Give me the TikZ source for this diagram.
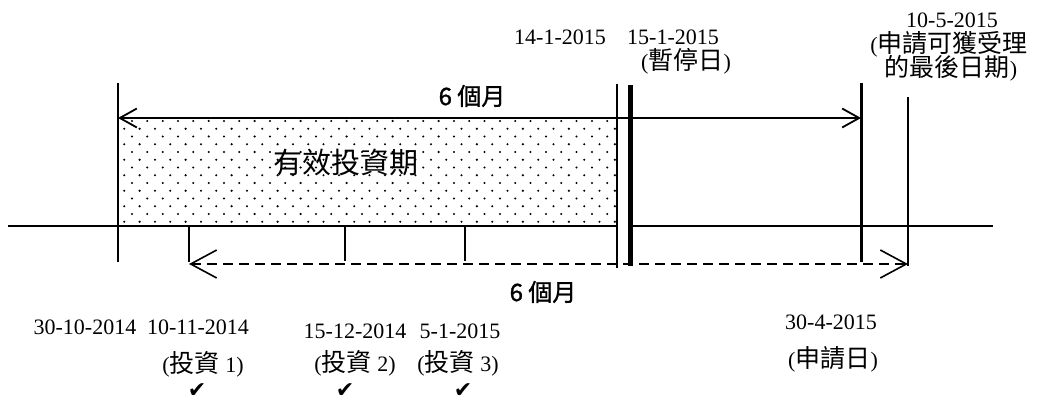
\documentclass[tikz,border=0pt]{standalone}
\usepackage{fontspec}
\setmainfont{Liberation Serif}
\newfontfamily\cjk{Noto Sans CJK TC}
\newfontfamily\cjkb[FakeBold=1.2]{Noto Sans CJK TC}
\newfontfamily\symf{DejaVu Sans}
\newcommand{\zh}[1]{{\cjk\fontsize{25}{26}\selectfont #1}}
\usetikzlibrary{arrows.meta}
\begin{document}
\begin{tikzpicture}[x=1pt,y=-1pt,
  datelbl/.style={inner sep=0pt,font=\fontsize{22}{24}\selectfont},
  monthlbl/.style={inner sep=0pt,font=\cjkb\fontsize{24}{26}\selectfont},
  tick/.style={line width=2pt},
  mainline/.style={line width=2pt},
  toparrow/.style={line width=1.8pt,{Straight Barb[length=17pt,width=19pt]}-{Straight Barb[length=17pt,width=19pt]}},
  dasharrow/.style={line width=1.6pt,dash pattern=on 10pt off 6pt,{Straight Barb[length=26pt,width=28pt]}-{Straight Barb[length=26pt,width=28pt]}},
  chk/.style={inner sep=0pt,font=\symf\fontsize{22}{24}\selectfont}]
\useasboundingbox (0,0) rectangle (1039,403);
% coordinates
\coordinate (v1t) at (118,83);   \coordinate (v1b) at (118,262);
\coordinate (t1t) at (189,226);  \coordinate (t1b) at (189,262);
\coordinate (t2t) at (345,226);  \coordinate (t2b) at (345,261);
\coordinate (t3t) at (465,226);  \coordinate (t3b) at (465,261);
\coordinate (v14t) at (617,84);  \coordinate (v14b) at (617,268);
\coordinate (v15t) at (630,85);  \coordinate (v15b) at (630,266);
\coordinate (v30t) at (861,83);  \coordinate (v30b) at (861,262);
\coordinate (v10t) at (908,97);  \coordinate (v10b) at (908,266);
\coordinate (mlA) at (8,226);    \coordinate (mlB) at (617,226);
\coordinate (mlC) at (632,226);  \coordinate (mlD) at (993,226);
\coordinate (boxTL) at (118,118);
\coordinate (aL) at (118,118);   \coordinate (aR) at (861,118);
\coordinate (dL) at (189,264);   \coordinate (dR) at (908,264);
% dotted area
\begin{scope}
\clip (boxTL) rectangle (mlB);
\foreach \r in {0,...,13}{
  \pgfmathsetmacro{\yy}{121+7.75*\r}
  \pgfmathsetmacro{\xo}{mod(\r,2)==0 ? 132 : 124.3}
  \foreach \k in {0,...,32}{
    \fill[black] ({\xo+15.33*\k},\yy) circle (1.15);
  }
}
\end{scope}
% main line
\draw[mainline] (mlA) -- (mlB);
\draw[mainline] (mlC) -- (mlD);
% verticals
\draw[line width=2.7pt] (v1t) -- (v1b);
\draw[tick] (t1t) -- (t1b);
\draw[tick] (t2t) -- (t2b);
\draw[tick] (t3t) -- (t3b);
\draw[line width=1.5pt] (v14t) -- (v14b);
\draw[line width=5pt] (v15t) -- (v15b);
\draw[line width=3pt] (v30t) -- (v30b);
\draw[line width=2pt] (v10t) -- (v10b);
% arrows
\draw[toparrow] (aL) -- (aR);
\draw[dasharrow] (dL) -- (dR);
% labels
\node[monthlbl] (m1) at (472,96) {6 個月};
\node[monthlbl] (m2) at (543,292) {6 個月};
\node[inner sep=0pt,font=\cjk\fontsize{29}{32}\selectfont] (eff) at (346,163) {有效投資期};
\node[datelbl] (d14) at (560,37) {14-1-2015};
\node[datelbl] (d15) at (673,37) {15-1-2015};
\node[datelbl] (d15z) at (686,61) {(\zh{暫停日})};
\node[datelbl] (d105) at (952,20) {10-5-2015};
\node[datelbl] (d105a) at (949,44) {(\zh{申請可獲受理}};
\node[datelbl] (d105b) at (951,68) {\zh{的最後日期})};
\node[datelbl] (d3010) at (85,327) {30-10-2014};
\node[datelbl] (d1011) at (198,327) {10-11-2014};
\node[datelbl] (i1) at (203,364) {(\zh{投資} 1)};
\node[chk] (c1) at (197,391) {✔};
\node[datelbl] (d1512) at (355,331) {15-12-2014};
\node[datelbl] (d51) at (460,331) {5-1-2015};
\node[datelbl] (i2) at (355,363) {(\zh{投資} 2)};
\node[datelbl] (i3) at (458,363) {(\zh{投資} 3)};
\node[chk] (c2) at (345,391) {✔};
\node[chk] (c3) at (463,391) {✔};
\node[datelbl] (d304) at (831,322) {30-4-2015};
\node[datelbl] (d304z) at (833,359) {(\zh{申請日})};
\end{tikzpicture}
\end{document}
